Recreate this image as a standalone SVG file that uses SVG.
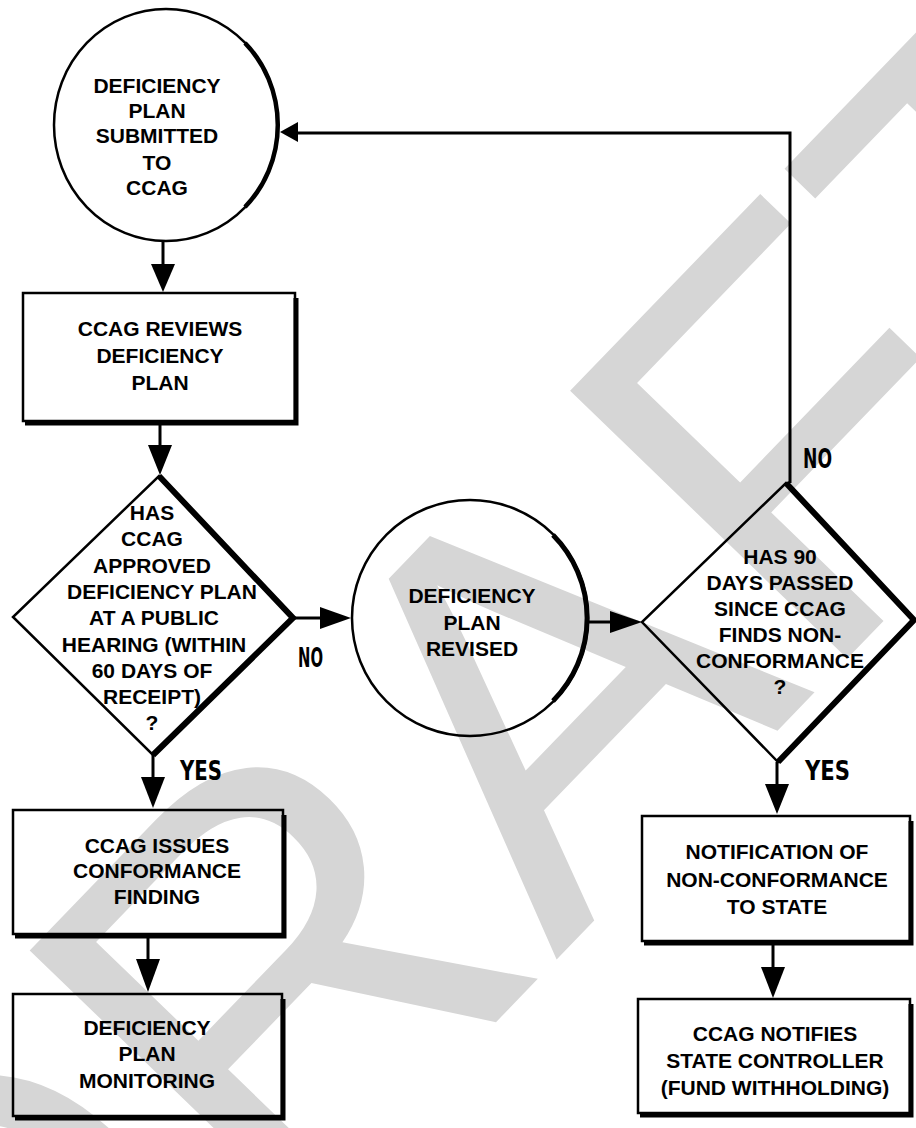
<svg xmlns="http://www.w3.org/2000/svg" width="916" height="1128" viewBox="0 0 916 1128">
<defs>
<style>
.wm{font-family:"Liberation Sans",Arial,sans-serif;font-size:560px;fill:#d6d6d6}
.t{font-family:"Liberation Sans",Arial,sans-serif;font-weight:bold;font-size:21px;text-anchor:middle;fill:#000}
.lbl{font-family:"DejaVu Sans Condensed","DejaVu Sans",sans-serif;font-weight:bold;font-stretch:condensed;font-size:27px;fill:#000}
.ln{fill:none;stroke:#000;stroke-width:3}
.thk{fill:none;stroke:#000;stroke-width:6;stroke-linejoin:miter}
.head{fill:#000;stroke:none}
.shape{fill:none;stroke:#000;stroke-width:2.5}
</style>
</defs>
<rect width="916" height="1128" fill="#fff"/>
<g id="watermark">
<text class="wm" transform="translate(-6,1542) rotate(-46)">DRAFT</text>
</g>
<g id="connectors">
<path class="ln" d="M790,483 V133 H296"/>
<polygon class="head" points="280,132 298,122 298,142"/>
<line class="ln" x1="163" y1="242" x2="163" y2="266"/>
<polygon class="head" points="151,264 175,264 163,292"/>
<line class="ln" x1="160" y1="424" x2="160" y2="447"/>
<polygon class="head" points="148,445 172,445 160,475"/>
<line class="ln" x1="153" y1="755" x2="153" y2="779"/>
<polygon class="head" points="141,777 165,777 153,808"/>
<line class="ln" x1="148" y1="937" x2="148" y2="961"/>
<polygon class="head" points="136,959 160,959 148,992"/>
<line class="ln" x1="293" y1="618" x2="322" y2="618"/>
<polygon class="head" points="320,607 320,629 351,618"/>
<line class="ln" x1="588" y1="622" x2="612" y2="622"/>
<polygon class="head" points="610,611 610,633 642,622"/>
<line class="ln" x1="777" y1="762" x2="777" y2="786"/>
<polygon class="head" points="765,784 789,784 777,814"/>
<line class="ln" x1="773" y1="944" x2="773" y2="969"/>
<polygon class="head" points="761,967 785,967 773,998"/>
<text class="lbl" x="298" y="667" textLength="25" lengthAdjust="spacingAndGlyphs">NO</text>
<text class="lbl" x="180" y="780" textLength="42" lengthAdjust="spacingAndGlyphs">YES</text>
<text class="lbl" x="803" y="468" textLength="29" lengthAdjust="spacingAndGlyphs">NO</text>
<text class="lbl" x="805" y="780" textLength="45" lengthAdjust="spacingAndGlyphs">YES</text>
</g>
<g id="node-submitted">
<ellipse class="shape" cx="166" cy="125" rx="112" ry="116"/>
<path class="thk" d="M245,43 A112,116 0 0 1 245,207" style="stroke-width:4.5"/>
<text class="t" x="157" y="93">DEFICIENCY</text>
<text class="t" x="157" y="118">PLAN</text>
<text class="t" x="157" y="143">SUBMITTED</text>
<text class="t" x="157" y="170">TO</text>
<text class="t" x="157" y="195">CCAG</text>
</g>
<g id="node-reviews">
<rect class="shape" x="23" y="293" width="272" height="128"/>
<path class="thk" d="M296,298 V423 H25" style="stroke-width:5"/>
<text class="t" x="160" y="336">CCAG REVIEWS</text>
<text class="t" x="160" y="363">DEFICIENCY</text>
<text class="t" x="160" y="390">PLAN</text>
</g>
<g id="node-approved">
<polygon class="shape" points="159,476 293,618 153,755 13,617"/>
<polyline class="thk" points="159,476 293,618 153,755"/>
<text class="t" x="152" y="520">HAS</text>
<text class="t" x="152" y="546">CCAG</text>
<text class="t" x="152" y="573">APPROVED</text>
<text class="t" x="162" y="599">DEFICIENCY PLAN</text>
<text class="t" x="154" y="625">AT A PUBLIC</text>
<text class="t" x="154" y="652">HEARING (WITHIN</text>
<text class="t" x="152" y="678">60 DAYS OF</text>
<text class="t" x="152" y="704">RECEIPT)</text>
<text class="t" x="152" y="730">?</text>
</g>
<g id="node-revised">
<circle class="shape" cx="470" cy="618" r="118"/>
<path class="thk" d="M553,535 A118,118 0 0 1 553,701" style="stroke-width:5"/>
<text class="t" x="472" y="603">DEFICIENCY</text>
<text class="t" x="472" y="630">PLAN</text>
<text class="t" x="472" y="656">REVISED</text>
</g>
<g id="node-90days">
<polygon class="shape" points="786,483 914,620 778,762 642,622"/>
<polyline class="thk" points="786,483 914,620 778,762"/>
<text class="t" x="780" y="564">HAS 90</text>
<text class="t" x="780" y="590">DAYS PASSED</text>
<text class="t" x="780" y="616">SINCE CCAG</text>
<text class="t" x="780" y="642">FINDS NON-</text>
<text class="t" x="780" y="668">CONFORMANCE</text>
<text class="t" x="780" y="694">?</text>
</g>
<g id="node-conformance">
<rect class="shape" x="13" y="810" width="270" height="124"/>
<path class="thk" d="M284,815 V936 H15" style="stroke-width:5"/>
<text class="t" x="157" y="853">CCAG ISSUES</text>
<text class="t" x="157" y="878">CONFORMANCE</text>
<text class="t" x="157" y="904">FINDING</text>
</g>
<g id="node-monitoring">
<rect class="shape" x="13" y="994" width="269" height="122"/>
<path class="thk" d="M283,999 V1118 H15" style="stroke-width:5"/>
<text class="t" x="147" y="1035">DEFICIENCY</text>
<text class="t" x="147" y="1061">PLAN</text>
<text class="t" x="147" y="1088">MONITORING</text>
</g>
<g id="node-notification">
<rect class="shape" x="642" y="816" width="268" height="125"/>
<path class="thk" d="M911,821 V943 H644" style="stroke-width:5"/>
<text class="t" x="777" y="859">NOTIFICATION OF</text>
<text class="t" x="777" y="887">NON-CONFORMANCE</text>
<text class="t" x="777" y="914">TO STATE</text>
</g>
<g id="node-controller">
<rect class="shape" x="638" y="999" width="272" height="114"/>
<path class="thk" d="M911,1004 V1115 H640" style="stroke-width:5"/>
<text class="t" x="775" y="1041">CCAG NOTIFIES</text>
<text class="t" x="775" y="1068">STATE CONTROLLER</text>
<text class="t" x="775" y="1095">(FUND WITHHOLDING)</text>
</g>
</svg>
